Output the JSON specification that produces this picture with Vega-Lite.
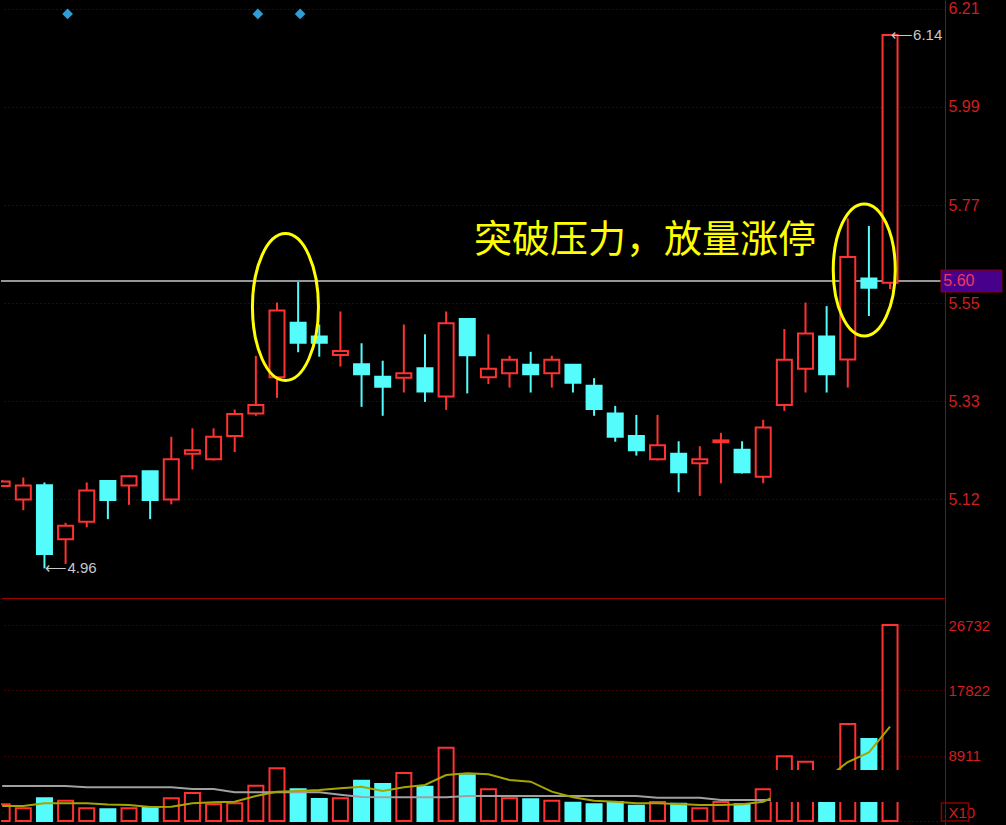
{
  "$schema": "https://vega.github.io/schema/vega-lite/v6.json",
  "background": "#000000",
  "padding": 0,
  "spacing": 0,
  "config": {
    "view": {"stroke": null},
    "axis": {
      "domainColor": "#a00000",
      "domainWidth": 1,
      "gridColor": "#8b0000",
      "gridDash": [1, 3],
      "gridWidth": 1,
      "ticks": false,
      "labelColor": "#d01e1e",
      "labelFont": "Liberation Sans",
      "labelFontSize": 16,
      "labelPadding": 3,
      "labelFlush": false,
      "labelOverlap": false,
      "title": null
    }
  },
  "datasets": {
    "candles": [
      {"k": -1, "o": 5.142, "h": 5.155, "l": 5.140, "c": 5.152, "dir": "up", "vol": 2278},
      {"k": 0, "o": 5.112, "h": 5.161, "l": 5.088, "c": 5.143, "dir": "up", "vol": 1732},
      {"k": 1, "o": 5.144, "h": 5.150, "l": 4.958, "c": 4.990, "dir": "down", "vol": 3096},
      {"k": 2, "o": 5.023, "h": 5.060, "l": 4.968, "c": 5.053, "dir": "up", "vol": 2773},
      {"k": 3, "o": 5.062, "h": 5.150, "l": 5.050, "c": 5.132, "dir": "up", "vol": 1732},
      {"k": 4, "o": 5.153, "h": 5.154, "l": 5.068, "c": 5.111, "dir": "down", "vol": 1596},
      {"k": 5, "o": 5.143, "h": 5.166, "l": 5.100, "c": 5.164, "dir": "up", "vol": 1732},
      {"k": 6, "o": 5.175, "h": 5.176, "l": 5.068, "c": 5.111, "dir": "down", "vol": 1869},
      {"k": 7, "o": 5.112, "h": 5.252, "l": 5.101, "c": 5.202, "dir": "up", "vol": 3096},
      {"k": 8, "o": 5.214, "h": 5.271, "l": 5.179, "c": 5.222, "dir": "up", "vol": 3818},
      {"k": 9, "o": 5.202, "h": 5.271, "l": 5.199, "c": 5.252, "dir": "up", "vol": 2278},
      {"k": 10, "o": 5.254, "h": 5.313, "l": 5.218, "c": 5.303, "dir": "up", "vol": 2414},
      {"k": 11, "o": 5.304, "h": 5.433, "l": 5.299, "c": 5.323, "dir": "up", "vol": 4815},
      {"k": 12, "o": 5.385, "h": 5.552, "l": 5.339, "c": 5.534, "dir": "up", "vol": 7188},
      {"k": 13, "o": 5.507, "h": 5.598, "l": 5.441, "c": 5.462, "dir": "down", "vol": 4324},
      {"k": 14, "o": 5.476, "h": 5.503, "l": 5.431, "c": 5.462, "dir": "down", "vol": 3000},
      {"k": 15, "o": 5.435, "h": 5.532, "l": 5.409, "c": 5.444, "dir": "up", "vol": 3096},
      {"k": 16, "o": 5.414, "h": 5.461, "l": 5.319, "c": 5.392, "dir": "down", "vol": 5497},
      {"k": 17, "o": 5.386, "h": 5.422, "l": 5.299, "c": 5.364, "dir": "down", "vol": 5047},
      {"k": 18, "o": 5.384, "h": 5.503, "l": 5.351, "c": 5.394, "dir": "up", "vol": 6547},
      {"k": 19, "o": 5.405, "h": 5.481, "l": 5.330, "c": 5.353, "dir": "down", "vol": 4678},
      {"k": 20, "o": 5.342, "h": 5.532, "l": 5.312, "c": 5.506, "dir": "up", "vol": 9998},
      {"k": 21, "o": 5.515, "h": 5.516, "l": 5.349, "c": 5.434, "dir": "down", "vol": 6233},
      {"k": 22, "o": 5.385, "h": 5.481, "l": 5.370, "c": 5.404, "dir": "up", "vol": 4324},
      {"k": 23, "o": 5.394, "h": 5.433, "l": 5.362, "c": 5.424, "dir": "up", "vol": 3096},
      {"k": 24, "o": 5.413, "h": 5.442, "l": 5.351, "c": 5.392, "dir": "down", "vol": 2960},
      {"k": 25, "o": 5.394, "h": 5.433, "l": 5.362, "c": 5.424, "dir": "up", "vol": 2773},
      {"k": 26, "o": 5.413, "h": 5.414, "l": 5.351, "c": 5.373, "dir": "down", "vol": 2496},
      {"k": 27, "o": 5.366, "h": 5.383, "l": 5.299, "c": 5.314, "dir": "down", "vol": 2278},
      {"k": 28, "o": 5.304, "h": 5.321, "l": 5.241, "c": 5.252, "dir": "down", "vol": 2592},
      {"k": 29, "o": 5.254, "h": 5.301, "l": 5.210, "c": 5.222, "dir": "down", "vol": 2087},
      {"k": 30, "o": 5.202, "h": 5.301, "l": 5.199, "c": 5.233, "dir": "up", "vol": 2592},
      {"k": 31, "o": 5.214, "h": 5.242, "l": 5.128, "c": 5.173, "dir": "down", "vol": 2360},
      {"k": 32, "o": 5.193, "h": 5.231, "l": 5.120, "c": 5.202, "dir": "up", "vol": 1732},
      {"k": 33, "o": 5.240, "h": 5.261, "l": 5.148, "c": 5.244, "dir": "up", "vol": 2592},
      {"k": 34, "o": 5.223, "h": 5.242, "l": 5.170, "c": 5.173, "dir": "down", "vol": 2278},
      {"k": 35, "o": 5.163, "h": 5.290, "l": 5.148, "c": 5.273, "dir": "up", "vol": 4324},
      {"k": 36, "o": 5.323, "h": 5.493, "l": 5.310, "c": 5.424, "dir": "up", "vol": 8825},
      {"k": 37, "o": 5.404, "h": 5.552, "l": 5.351, "c": 5.483, "dir": "up", "vol": 8088},
      {"k": 38, "o": 5.476, "h": 5.544, "l": 5.351, "c": 5.392, "dir": "down", "vol": 5400},
      {"k": 39, "o": 5.425, "h": 5.740, "l": 5.362, "c": 5.654, "dir": "up", "vol": 13231},
      {"k": 40, "o": 5.606, "h": 5.723, "l": 5.522, "c": 5.585, "dir": "down", "vol": 11185},
      {"k": 41, "o": 5.596, "h": 6.150, "l": 5.582, "c": 6.150, "dir": "up", "vol": 26732}
    ],
    "ma": [
      {"k": -1, "ma5": 2052, "maL": 4779},
      {"k": 0, "ma5": 2052, "maL": 4779},
      {"k": 1, "ma5": 2420, "maL": 4779},
      {"k": 2, "ma5": 2420, "maL": 4779},
      {"k": 3, "ma5": 2420, "maL": 4602},
      {"k": 4, "ma5": 2257, "maL": 4602},
      {"k": 5, "ma5": 2189, "maL": 4602},
      {"k": 6, "ma5": 1916, "maL": 4602},
      {"k": 7, "ma5": 1957, "maL": 4602},
      {"k": 8, "ma5": 2420, "maL": 4370},
      {"k": 9, "ma5": 2557, "maL": 4370},
      {"k": 10, "ma5": 2639, "maL": 3920},
      {"k": 11, "ma5": 3416, "maL": 3920},
      {"k": 12, "ma5": 4002, "maL": 3920},
      {"k": 13, "ma5": 4098, "maL": 3920},
      {"k": 14, "ma5": 4234, "maL": 3920},
      {"k": 15, "ma5": 4466, "maL": 3593},
      {"k": 16, "ma5": 4684, "maL": 3279},
      {"k": 17, "ma5": 4098, "maL": 3239},
      {"k": 18, "ma5": 4602, "maL": 3239},
      {"k": 19, "ma5": 4916, "maL": 3239},
      {"k": 20, "ma5": 6279, "maL": 3239},
      {"k": 21, "ma5": 6511, "maL": 3416},
      {"k": 22, "ma5": 6375, "maL": 3416},
      {"k": 23, "ma5": 5598, "maL": 3416},
      {"k": 24, "ma5": 5366, "maL": 3416},
      {"k": 25, "ma5": 4002, "maL": 3416},
      {"k": 26, "ma5": 3239, "maL": 3416},
      {"k": 27, "ma5": 2775, "maL": 3416},
      {"k": 28, "ma5": 2639, "maL": 3416},
      {"k": 29, "ma5": 2420, "maL": 3416},
      {"k": 30, "ma5": 2420, "maL": 3184},
      {"k": 31, "ma5": 2325, "maL": 3184},
      {"k": 32, "ma5": 2189, "maL": 3184},
      {"k": 33, "ma5": 2189, "maL": 2870},
      {"k": 34, "ma5": 2284, "maL": 2870},
      {"k": 35, "ma5": 2639, "maL": 2870},
      {"k": 36, "ma5": 3950, "maL": 2870},
      {"k": 37, "ma5": 5221},
      {"k": 38, "ma5": 5783},
      {"k": 39, "ma5": 8052},
      {"k": 40, "ma5": 9348},
      {"k": 41, "ma5": 12866}
    ],
    "level": [{"level": 5.60, "label": "5.60"}],
    "signals": [{"k": 2}, {"k": 11}, {"k": 13}],
    "ellipses": [
      {"name": "a", "k": 12.40, "p": 5.542},
      {"name": "b", "k": 39.78, "p": 5.625}
    ],
    "callout": [{"k": 21.32, "p": 5.690, "label": "突破压力，放量涨停"}],
    "extremes": [
      {"k": 1, "p": 4.958, "label": "⟵4.96"},
      {"k": 41, "p": 6.150, "label": "⟵6.14"}
    ]
  },
  "vconcat": [
    {
      "width": 944,
      "height": 598,
      "layer": [
        {
          "data": {"name": "level"},
          "mark": {"type": "rule", "color": "#c8c8c8", "strokeWidth": 1.5},
          "encoding": {
            "y": {
              "field": "level", "type": "quantitative",
              "scale": {"domain": [4.8918, 6.2281], "nice": false, "zero": false},
              "axis": {
                "orient": "right",
                "values": [6.208, 5.989, 5.770, 5.551, 5.332, 5.113],
                "labelExpr": "datum.value < 5.2 ? '5.12' : format(datum.value, '.2f')",
                "grid": true,
                "domain": true,
                "minExtent": 62,
                "maxExtent": 62
              }
            }
          }
        },
        {
          "data": {"name": "candles"},
          "mark": {"type": "rule", "strokeWidth": 2, "clip": true},
          "encoding": {
            "x": {"field": "k", "type": "quantitative", "scale": {"domain": [-0.819, 43.363], "nice": false, "zero": false}, "axis": null},
            "y": {"field": "l", "type": "quantitative"},
            "y2": {"field": "h"},
            "color": {"field": "dir", "type": "nominal", "scale": {"domain": ["up", "down"], "range": ["#ff3232", "#54fcfc"]}, "legend": null}
          }
        },
        {
          "data": {"name": "candles"},
          "mark": {"type": "bar", "width": 15, "strokeWidth": 2, "clip": true},
          "encoding": {
            "x": {"field": "k", "type": "quantitative"},
            "y": {"field": "o", "type": "quantitative"},
            "y2": {"field": "c"},
            "fill": {"field": "dir", "type": "nominal", "scale": {"domain": ["up", "down"], "range": ["#000000", "#54fcfc"]}, "legend": null},
            "stroke": {"field": "dir", "type": "nominal", "scale": {"domain": ["up", "down"], "range": ["#ff3232", "#54fcfc"]}, "legend": null}
          }
        },
        {
          "data": {"name": "signals"},
          "mark": {"type": "point", "shape": "diamond", "filled": true, "color": "#2d9ed6", "size": 115, "opacity": 1, "xOffset": 2},
          "encoding": {
            "x": {"field": "k", "type": "quantitative"},
            "y": {"datum": 6.197, "type": "quantitative"}
          }
        },
        {
          "data": {"name": "ellipses"},
          "transform": [{"filter": "datum.name == 'a'"}],
          "mark": {"type": "point", "filled": false, "stroke": "#ffff00", "strokeWidth": 3, "opacity": 1, "size": 21609,
            "shape": "M 0 -1 C 0.248 -1 0.449 -0.552 0.449 0 C 0.449 0.552 0.248 1 0 1 C -0.248 1 -0.449 0.552 -0.449 0 C -0.449 -0.552 -0.248 -1 0 -1 Z"},
          "encoding": {
            "x": {"field": "k", "type": "quantitative"},
            "y": {"field": "p", "type": "quantitative"}
          }
        },
        {
          "data": {"name": "ellipses"},
          "transform": [{"filter": "datum.name == 'b'"}],
          "mark": {"type": "point", "filled": false, "stroke": "#ffff00", "strokeWidth": 3, "opacity": 1, "size": 17424,
            "shape": "M 0 -1 C 0.260 -1 0.470 -0.552 0.470 0 C 0.470 0.552 0.260 1 0 1 C -0.260 1 -0.470 0.552 -0.470 0 C -0.470 -0.552 -0.260 -1 0 -1 Z"},
          "encoding": {
            "x": {"field": "k", "type": "quantitative"},
            "y": {"field": "p", "type": "quantitative"}
          }
        },
        {
          "data": {"name": "callout"},
          "mark": {"type": "text", "align": "left", "baseline": "middle", "font": "Noto Sans CJK SC", "fontSize": 38, "color": "#ffff00"},
          "encoding": {
            "x": {"field": "k", "type": "quantitative"},
            "y": {"field": "p", "type": "quantitative"},
            "text": {"field": "label"}
          }
        },
        {
          "data": {"name": "extremes"},
          "mark": {"type": "text", "align": "left", "baseline": "middle", "font": "Liberation Sans", "fontSize": 15, "color": "#c8c8c8", "dx": 1},
          "encoding": {
            "x": {"field": "k", "type": "quantitative"},
            "y": {"field": "p", "type": "quantitative"},
            "text": {"field": "label"}
          }
        },
        {
          "data": {"name": "level"},
          "mark": {"type": "rect", "width": 61, "height": 22, "fill": "#46008c", "stroke": "#8b0000", "strokeWidth": 1},
          "encoding": {
            "x": {"datum": 44.85, "type": "quantitative"},
            "y": {"field": "level", "type": "quantitative"}
          }
        },
        {
          "data": {"name": "level"},
          "mark": {"type": "text", "align": "left", "baseline": "middle", "font": "Liberation Sans", "fontSize": 16, "color": "#f0385a"},
          "encoding": {
            "x": {"datum": 43.52, "type": "quantitative"},
            "y": {"field": "level", "type": "quantitative"},
            "text": {"field": "label"}
          }
        }
      ]
    },
    {
      "width": 944,
      "height": 227,
      "layer": [
        {
          "data": {"name": "candles"},
          "mark": {"type": "bar", "width": 15, "strokeWidth": 2, "clip": true},
          "encoding": {
            "x": {"field": "k", "type": "quantitative", "scale": {"domain": [-0.819, 43.363], "nice": false, "zero": false},
              "axis": {"orient": "top", "domain": true, "domainColor": "#a00000", "labels": false, "ticks": false, "grid": false, "minExtent": 0, "maxExtent": 0}},
            "y": {
              "field": "vol", "type": "quantitative",
              "scale": {"domain": [-546, 30431], "nice": false, "zero": false},
              "axis": {
                "orient": "right",
                "values": [0, 1100, 8911, 17822, 26732],
                "labelExpr": "datum.value == 0 ? '' : (datum.value < 5000 ? 'X10' : format(datum.value, 'd'))",
                "labelFontSize": 15,
                "grid": true,
                "gridOpacity": {"condition": {"test": "datum.value == 1100", "value": 0}, "value": 1},
                "minExtent": 62,
                "maxExtent": 62
              }
            },
            "y2": {"datum": 0},
            "fill": {"field": "dir", "type": "nominal", "scale": {"domain": ["up", "down"], "range": ["#000000", "#54fcfc"]}, "legend": null},
            "stroke": {"field": "dir", "type": "nominal", "scale": {"domain": ["up", "down"], "range": ["#ff3232", "#54fcfc"]}, "legend": null}
          }
        },
        {
          "data": {"name": "ma"},
          "transform": [{"filter": "isValid(datum.maL)"}],
          "mark": {"type": "line", "color": "#a0a0a0", "strokeWidth": 2, "clip": true},
          "encoding": {
            "x": {"field": "k", "type": "quantitative"},
            "y": {"field": "maL", "type": "quantitative"}
          }
        },
        {
          "data": {"name": "ma"},
          "mark": {"type": "line", "color": "#a5a500", "strokeWidth": 2, "clip": true},
          "encoding": {
            "x": {"field": "k", "type": "quantitative"},
            "y": {"field": "ma5", "type": "quantitative"}
          }
        },
        {
          "data": {"values": [{}]},
          "mark": {"type": "rect", "fill": "#000000"},
          "encoding": {
            "x": {"datum": 35.36, "type": "quantitative"},
            "x2": {"datum": 43.41},
            "y": {"datum": 6956, "type": "quantitative"},
            "y2": {"datum": 2592}
          }
        },
        {
          "data": {"values": [{}]},
          "mark": {"type": "rect", "fill": null, "fillOpacity": 0, "stroke": "#8b0000", "strokeWidth": 1.5},
          "encoding": {
            "x": {"datum": 43.43, "type": "quantitative"},
            "x2": {"datum": 44.72},
            "y": {"datum": 2461, "type": "quantitative"},
            "y2": {"datum": 0}
          }
        }
      ]
    }
  ]
}
